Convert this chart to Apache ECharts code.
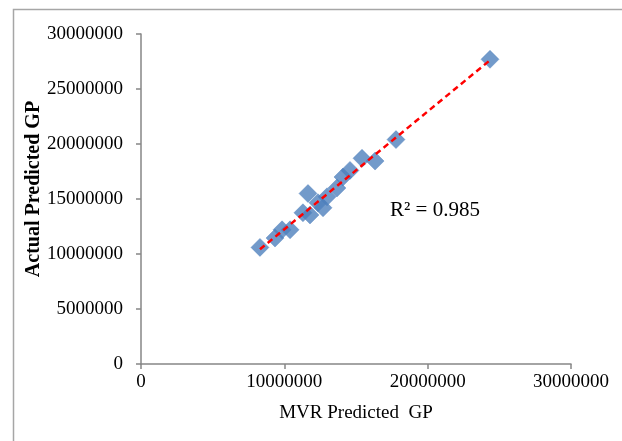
<!DOCTYPE html>
<html>
<head>
<meta charset="utf-8">
<script src="https://cdn.jsdelivr.net/npm/echarts@6/dist/echarts.min.js"></script>
<style>html,body{margin:0;padding:0;background:#fff}#c{width:622px;height:441px}</style>
</head>
<body>
<div id="c"></div>
<script>
const mvrPredicted = [8300000, 9350000, 9840000, 10400000, 11300000, 11650000, 11790000, 12350000, 12700000, 12980000, 13670000, 14090000, 14580000, 15420000, 16330000, 17790000, 24350000];
const actualPredicted = [10600000, 11450000, 12200000, 12200000, 13750000, 15500000, 13550000, 14650000, 14200000, 15200000, 16000000, 17000000, 17600000, 18700000, 18450000, 20400000, 27700000];
const xTicks = [0, 10000000, 20000000, 30000000];
const yTicks = [0, 5000000, 10000000, 15000000, 20000000, 25000000, 30000000];
const r2Label = 'R² = 0.985';

// least squares trendline
const n = mvrPredicted.length;
let sx=0, sy=0, sxx=0, sxy=0;
for (let i=0;i<n;i++){sx+=mvrPredicted[i];sy+=actualPredicted[i];sxx+=mvrPredicted[i]*mvrPredicted[i];sxy+=mvrPredicted[i]*actualPredicted[i];}
const slope=(n*sxy-sx*sy)/(n*sxx-sx*sx);
const intercept=(sy-slope*sx)/n;
const xmin=Math.min(...mvrPredicted), xmax=Math.max(...mvrPredicted);
const trend=[[xmin, slope*xmin+intercept],[xmax, slope*xmax+intercept]];

const font = '"Liberation Serif", "Times New Roman", serif';
const axisCol = '#868686';
const chart = echarts.init(document.getElementById('c'));
chart.setOption({
  animation: false,
  grid: {left: 141, right: 51, top: 34, bottom: 77},
  graphic: [
    {type: 'rect', shape: {x: 13.5, y: 9.5, width: 640, height: 460}, style: {fill: 'none', stroke: '#a6a6a6', lineWidth: 1.5}, silent: true},
    {type: 'text', left: 390, top: 200, style: {text: r2Label, font: '21px ' + font, fill: '#000'}}
  ],
  xAxis: {
    type: 'value', min: xTicks[0], max: xTicks[xTicks.length-1], interval: 10000000,
    name: 'MVR Predicted  GP', nameLocation: 'middle', nameGap: 40,
    nameTextStyle: {fontFamily: font, fontSize: 19, color: '#000'},
    axisLine: {show: true, lineStyle: {color: axisCol, width: 1.5}},
    axisTick: {show: true, length: 5, lineStyle: {color: axisCol, width: 1.5}},
    axisLabel: {fontFamily: font, fontSize: 19, color: '#000', margin: 9, formatter: v => String(v)},
    splitLine: {show: false}
  },
  yAxis: {
    type: 'value', min: yTicks[0], max: yTicks[yTicks.length-1], interval: 5000000,
    name: 'Actual Predicted GP', nameLocation: 'middle', nameGap: 97, nameMoveOverlap: false,
    nameTextStyle: {fontFamily: font, fontSize: 20, fontWeight: 'bold', color: '#000', padding: [0, 0, 0, 20]},
    axisLine: {show: true, lineStyle: {color: axisCol, width: 1.5}},
    axisTick: {show: true, length: 5, lineStyle: {color: axisCol, width: 1.5}},
    axisLabel: {fontFamily: font, fontSize: 19, color: '#000', margin: 18, formatter: v => String(v)},
    splitLine: {show: false}
  },
  series: [
    {type: 'scatter', symbol: 'diamond', symbolSize: [18, 18],
     itemStyle: {color: '#4f81bd', borderColor: '#4a7ebb', borderWidth: 0.5},
     data: mvrPredicted.map((x,i)=>[x, actualPredicted[i]])},
    {type: 'line', data: trend, symbol: 'none', z: 3,
     lineStyle: {color: '#ff0000', width: 2.5, type: [6, 4]}}
  ]
});
</script>
</body>
</html>
